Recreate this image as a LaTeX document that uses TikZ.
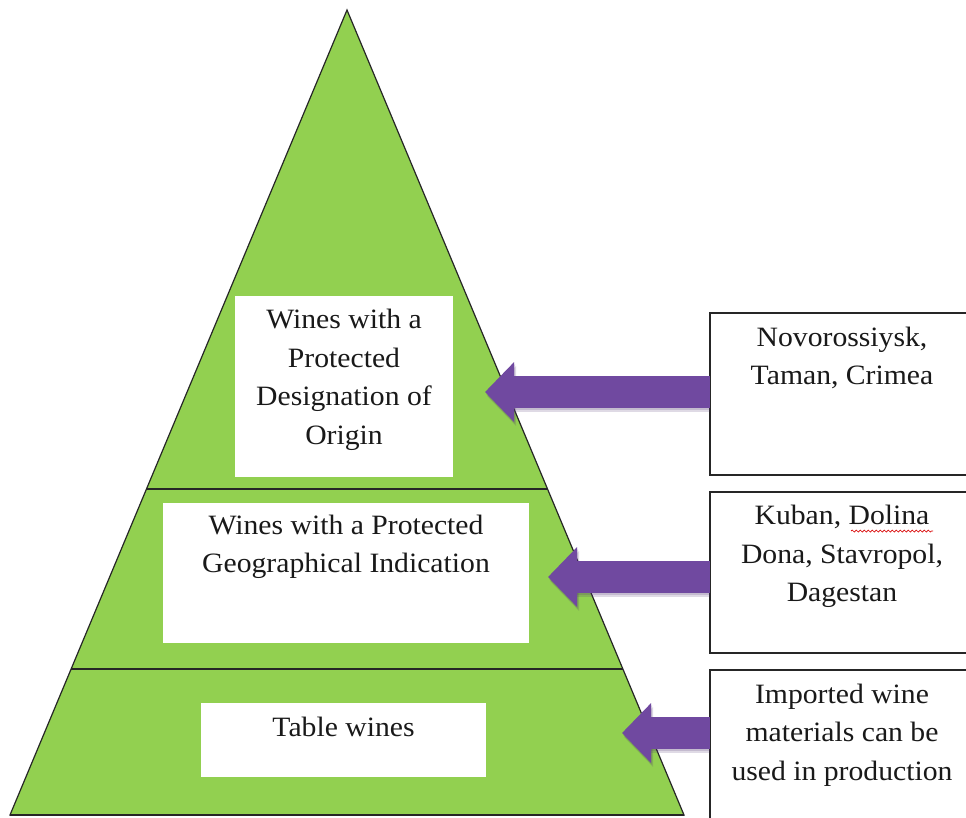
\documentclass[tikz,border=0pt]{standalone}
\usepackage{fontspec}
\setmainfont{Liberation Serif}[FakeStretch=1.06]
\usetikzlibrary{calc,arrows.meta,decorations.pathmorphing}
\definecolor{pyrgreen}{HTML}{92D050}
\definecolor{arrpurple}{HTML}{7049A0}
\begin{document}
\begin{tikzpicture}[x=1pt,y=-1pt,
  every node/.style={inner sep=0pt, outer sep=0pt},
  lbl/.style={font=\fontsize{28}{38.5}\selectfont, align=center, text=black!90},
  innerbox/.style={fill=white, draw=none},
  sidebox/.style={draw=black!85, line width=1.3pt, fill=white},
  secline/.style={draw=black!85, line width=1.4pt},
  fatarrow/.style={draw=arrpurple, line width=32pt, -{Triangle[length=29pt,width=58pt]}},
  arrshadow/.style={draw=arrpurple!70!black, line width=32pt, opacity=0.18, -{Triangle[length=29pt,width=58pt]}},
]
\clip (0,0) rectangle (966,817);
\fill[white] (0,0) rectangle (966,817);

% pyramid
\coordinate (apex) at (347,10);
\coordinate (bl) at (10,815);
\coordinate (br) at (684,815);
\filldraw[fill=pyrgreen, draw=black!85, line width=1.2pt] (apex) -- (br) -- (bl) -- cycle;
\draw[secline] ($(apex)!0.595!(bl)$) coordinate (s1l) -- ($(apex)!0.595!(br)$) coordinate (s1r);
\draw[secline] ($(apex)!0.8186!(bl)$) coordinate (s2l) -- ($(apex)!0.8186!(br)$) coordinate (s2r);
\draw[draw=black!85, line width=2pt] (bl) -- (br);

% boxes inside pyramid
\node[innerbox, minimum width=218pt, minimum height=181pt] (pdo) at (344,386.5) {};
\node[innerbox, minimum width=366pt, minimum height=140pt] (pgi) at (346,573) {};
\node[innerbox, minimum width=285pt, minimum height=74pt] (tw) at (343.5,740) {};
\node[lbl] (pdot) at (344,380) {Wines with a\\Protected\\Designation of\\Origin};
\node[lbl] (pgit) at (346,547) {Wines with a Protected\\Geographical Indication};
\node[lbl] (twt) at (343.5,727) {Table wines};

% side boxes
\node[sidebox, minimum width=270pt, minimum height=162pt, anchor=north west] (nov) at (710,313) {};
\node[sidebox, minimum width=270pt, minimum height=161pt, anchor=north west] (kub) at (710,492) {};
\node[sidebox, minimum width=270pt, minimum height=170pt, anchor=north west] (imp) at (710,670) {};
\node[lbl] (novt) at (842,358) {Novorossiysk,\\Taman, Crimea};
\node[lbl] (kubt) at (842,556.5) {Kuban, Dolina\\Dona, Stavropol,\\Dagestan};
\node[lbl] (impt) at (842,735) {Imported wine\\materials can be\\used in production};
\draw[red!85!black, line width=0.7pt, decorate, decoration={snake, amplitude=1pt, segment length=4pt}]
  (851,531) -- (933,531);

% arrows
\coordinate (tip1) at (485,392);
\coordinate (tip2) at (548,577);
\coordinate (tip3) at (622,733);
\foreach \t/\b in {tip1/nov, tip2/kub, tip3/imp}{
  \draw[arrshadow] ([shift={(0,4)}]\b.west |- \t) -- ([shift={(2,4)}]\t);
  \draw[arrshadow] ([shift={(0,2)}]\b.west |- \t) -- ([shift={(1,2)}]\t);
  \draw[fatarrow] (\b.west |- \t) -- (\t);
}
\end{tikzpicture}
\end{document}
